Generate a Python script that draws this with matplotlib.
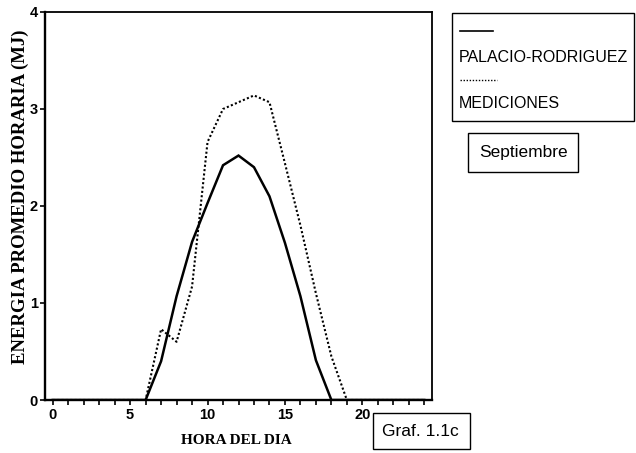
import numpy as np
import matplotlib
matplotlib.use("Agg")
import matplotlib.pyplot as plt
from matplotlib.patches import Rectangle
from matplotlib.lines import Line2D

# hourly mean energy (MJ), september
horas = np.arange(0, 25)
palacio_rodriguez = [0, 0, 0, 0, 0, 0,
                     0, 0.40, 1.07, 1.63, 2.03, 2.42, 2.52, 2.40, 2.10, 1.62, 1.07, 0.41, 0,
                     0, 0, 0, 0, 0, 0]
mediciones = [0, 0, 0, 0, 0, 0,
              0, 0.73, 0.60, 1.17, 2.66, 3.00, 3.07, 3.14, 3.07, 2.44, 1.80, 1.10, 0.45,
              0, 0, 0, 0, 0, 0]
xticks_major = [0, 5, 10, 15, 20]
yticks = [0, 1, 2, 3, 4]

W, H = 636, 453
fig = plt.figure(figsize=(W / 100, H / 100), dpi=100)
ax = fig.add_axes([45 / W, 1 - 400 / H, 387 / W, 388 / H])

ax.plot(horas, palacio_rodriguez, color="black", lw=1.8, solid_joinstyle="miter")
ax.plot(horas, mediciones, color="black", lw=1.5, linestyle=(0, (1, 1.1)))

ax.set_xlim(-0.5, 24.5)
ax.set_ylim(0, 4)
ax.set_xticks(xticks_major)
ax.set_xticks(horas, minor=True)
ax.set_yticks(yticks)
ax.tick_params(axis="x", which="both", direction="out", length=3.5, width=1.2, pad=2)
ax.tick_params(axis="y", direction="out", length=3.5, width=1.2, pad=1.5)
for lab in ax.get_xticklabels() + ax.get_yticklabels():
    lab.set_fontfamily("Liberation Sans")
    lab.set_fontweight("bold")
    lab.set_fontsize(10.5)

for side in ["left", "bottom"]:
    ax.spines[side].set_linewidth(1.7)
for side in ["top", "right"]:
    ax.spines[side].set_linewidth(1.3)

fig.text(236 / W, 1 - 440 / H, "HORA DEL DIA", ha="center", va="center",
         family="Liberation Serif", weight="bold", fontsize=11)
fig.text(20 / W, 1 - 197 / H, "ENERGIA PROMEDIO HORARIA (MJ)", ha="center", va="center",
         rotation=90, family="Liberation Serif", weight="bold", fontsize=13.5)

# legend box with the samples drawn above each name
fig.add_artist(Rectangle((452 / W, 1 - 121 / H), 182 / W, 108 / H, transform=fig.transFigure,
                         fill=False, lw=1.0, ec="black"))
fig.add_artist(Line2D([460 / W, 493 / W], [1 - 31 / H] * 2, transform=fig.transFigure,
                      color="black", lw=1.2))
fig.add_artist(Line2D([460 / W, 497 / W], [1 - 80 / H] * 2, transform=fig.transFigure,
                      color="black", lw=1.0, linestyle=(0, (1, 1.2))))
fig.text(459 / W, 1 - 58 / H, "PALACIO-RODRIGUEZ", ha="left", va="center",
         family="Liberation Sans", fontsize=11.5)
fig.text(459 / W, 1 - 103 / H, "MEDICIONES", ha="left", va="center",
         family="Liberation Sans", fontsize=11.5)

fig.add_artist(Rectangle((468 / W, 1 - 172 / H), 110 / W, 39 / H, transform=fig.transFigure,
                         fill=False, lw=1.0, ec="black"))
fig.text(523 / W, 1 - 152 / H, "Septiembre", ha="center", va="center",
         family="Liberation Sans", fontsize=12.5)

fig.add_artist(Rectangle((373 / W, 1 - 449 / H), 97 / W, 36 / H, transform=fig.transFigure,
                         fill=False, lw=1.0, ec="black"))
fig.text(420 / W, 1 - 431 / H, "Graf. 1.1c", ha="center", va="center",
         family="Liberation Sans", fontsize=12.5)

fig.savefig("out.png", dpi=100)
